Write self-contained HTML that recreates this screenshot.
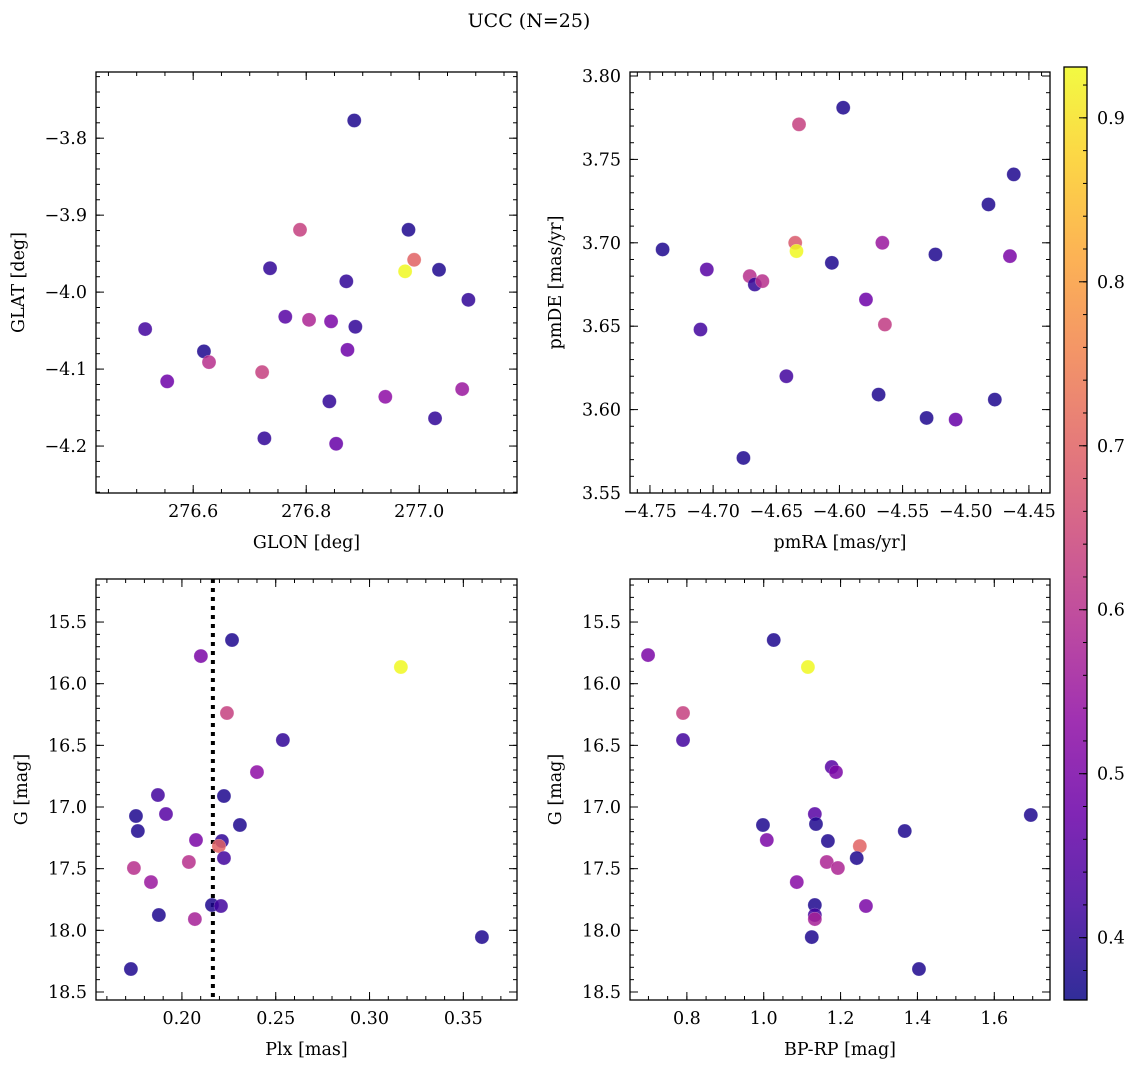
<!DOCTYPE html>
<html><head><meta charset="utf-8"><style>
html,body{margin:0;padding:0;background:#fff;}
svg{display:block;font-family:"DejaVu Serif","Liberation Serif",serif;}
</style></head><body>
<svg id="fig" width="1136" height="1067" viewBox="0 0 1136 1067" xmlns="http://www.w3.org/2000/svg">
<text x="529" y="27" font-size="19" text-anchor="middle">UCC (N=25)</text>
</svg>
<script>
// ---- data ----
const glon = [276.885,276.789,276.981,276.991,276.975,277.035,276.736,276.871,277.087,276.763,276.805,276.844,276.887,276.515,276.873,276.619,276.628,276.722,276.554,277.076,276.940,276.841,277.028,276.726,276.853];
const glat = [-3.777,-3.919,-3.919,-3.958,-3.973,-3.971,-3.969,-3.986,-4.010,-4.032,-4.036,-4.038,-4.045,-4.048,-4.075,-4.077,-4.091,-4.104,-4.116,-4.126,-4.136,-4.142,-4.164,-4.190,-4.197];
const probTL = [0.38,0.63,0.38,0.70,0.93,0.38,0.40,0.40,0.40,0.45,0.58,0.50,0.40,0.42,0.48,0.38,0.60,0.63,0.48,0.55,0.53,0.40,0.40,0.40,0.47];

const pmra = [-4.597,-4.632,-4.462,-4.482,-4.740,-4.635,-4.566,-4.634,-4.524,-4.465,-4.705,-4.606,-4.671,-4.667,-4.661,-4.579,-4.564,-4.710,-4.642,-4.569,-4.531,-4.508,-4.477,-4.676];
const pmde = [3.781,3.771,3.741,3.723,3.696,3.700,3.700,3.695,3.693,3.692,3.684,3.688,3.680,3.675,3.677,3.666,3.651,3.648,3.620,3.609,3.595,3.594,3.606,3.571];
const probTR = [0.38,0.63,0.38,0.38,0.38,0.68,0.55,0.93,0.38,0.50,0.45,0.38,0.60,0.40,0.60,0.48,0.62,0.42,0.42,0.38,0.38,0.47,0.38,0.38];

const plx = [0.2267,0.2101,0.3167,0.2240,0.2538,0.2400,0.1872,0.1915,0.2224,0.1755,0.1765,0.2309,0.2075,0.2213,0.2197,0.2224,0.2037,0.1744,0.1835,0.2160,0.2208,0.1877,0.2069,0.3599,0.1728];
const gmagBL = [15.646,15.776,15.865,16.238,16.457,16.717,16.903,17.057,16.911,17.073,17.195,17.146,17.268,17.276,17.317,17.414,17.446,17.495,17.609,17.795,17.803,17.876,17.909,18.055,18.314];
const probBL = [0.38,0.50,0.93,0.63,0.40,0.53,0.42,0.45,0.38,0.38,0.38,0.38,0.50,0.40,0.70,0.42,0.60,0.60,0.55,0.38,0.42,0.38,0.57,0.38,0.38];
const plxLine = [0.2165];

const bprp = [1.026,0.699,1.115,0.790,0.790,1.177,1.188,1.133,1.136,0.998,1.695,1.367,1.008,1.167,1.250,1.242,1.164,1.193,1.086,1.266,1.133,1.133,1.133,1.125,1.404];
const gmagBR = [15.646,15.768,15.865,16.238,16.457,16.676,16.717,17.057,17.138,17.146,17.065,17.195,17.268,17.276,17.317,17.414,17.446,17.495,17.609,17.803,17.795,17.876,17.909,18.055,18.314];
const probBR = [0.38,0.50,0.93,0.63,0.42,0.45,0.50,0.45,0.38,0.38,0.38,0.38,0.50,0.38,0.70,0.38,0.58,0.58,0.52,0.50,0.38,0.42,0.57,0.38,0.38];

const tlXTicks = [276.6,276.8,277.0];
const tlYTicks = [-3.8,-3.9,-4.0,-4.1,-4.2];
const trXTicks = [-4.75,-4.70,-4.65,-4.60,-4.55,-4.50,-4.45];
const trYTicks = [3.55,3.60,3.65,3.70,3.75,3.80];
const blXTicks = [0.20,0.25,0.30,0.35];
const gTicks = [15.5,16.0,16.5,17.0,17.5,18.0,18.5];
const brXTicks = [0.8,1.0,1.2,1.4,1.6];
const cbTicks = [0.4,0.5,0.6,0.7,0.8,0.9];

const NS='http://www.w3.org/2000/svg';
const fig=document.getElementById('fig');
function mk(tag,attrs,parent){const e=document.createElementNS(NS,tag);for(const k in attrs)e.setAttribute(k,attrs[k]);(parent||fig).appendChild(e);return e;}

const CMIN=0.362, CMAX=0.931;
const plasma=[[13,8,135],[65,4,157],[106,0,168],[143,13,164],[177,42,144],[204,71,120],[225,100,98],[242,132,75],[252,166,54],[252,206,37],[240,249,33]];
function cmap(v){let t=(v-CMIN)/(CMAX-CMIN);t=Math.max(0,Math.min(1,t))*10;const i=Math.min(9,Math.floor(t)),f=t-i;const a=plasma[i],b=plasma[i+1];
return 'rgb('+a.map((c,k)=>Math.round(c+(b[k]-c)*f)).join(',')+')';}

function fmt(v,d){return (v<0?'\u2212':'')+Math.abs(v).toFixed(d);}
const FS=17.5;

function panel(cfg){
  const g=mk('g',{});
  
  
  const {x0,x1,y0,y1,xmin,xmax,ymin,ymax}=cfg;
  const sx=v=>x0+(v-xmin)/(xmax-xmin)*(x1-x0);
  const sy=v=>cfg.invert? y0+(v-ymin)/(ymax-ymin)*(y1-y0) : y1-(v-ymin)/(ymax-ymin)*(y1-y0);
  const tg=mk('g',{stroke:'#000','stroke-width':1},g);
  
  
  const lo=Math.min(xmin,xmax),hi=Math.max(xmin,xmax);
  for(let v=Math.ceil(lo/cfg.xminor-1e-9)*cfg.xminor;v<=hi+1e-9;v+=cfg.xminor){const X=sx(v);
    mk('line',{x1:X,x2:X,y1:y1,y2:y1-4},tg);mk('line',{x1:X,x2:X,y1:y0,y2:y0+4},tg);}
  const ylo=Math.min(ymin,ymax),yhi=Math.max(ymin,ymax);
  for(let v=Math.ceil(ylo/cfg.yminor-1e-9)*cfg.yminor;v<=yhi+1e-9;v+=cfg.yminor){const Y=sy(v);
    mk('line',{x1:x0,x2:x0+4,y1:Y,y2:Y},tg);mk('line',{x1:x1,x2:x1-4,y1:Y,y2:Y},tg);}
  cfg.xticks.forEach(v=>{const X=sx(v);
    mk('line',{x1:X,x2:X,y1:y1,y2:y1-8},tg);mk('line',{x1:X,x2:X,y1:y0,y2:y0+8},tg);
    const t=mk('text',{x:X,y:y1+24,'font-size':FS,'text-anchor':'middle'},g);t.textContent=fmt(v,cfg.xd);
    
    });
  cfg.yticks.forEach(v=>{const Y=sy(v);
    mk('line',{x1:x0,x2:x0+8,y1:Y,y2:Y},tg);mk('line',{x1:x1,x2:x1-8,y1:Y,y2:Y},tg);
    const t=mk('text',{x:x0-9,y:Y+6,'font-size':FS,'text-anchor':'end'},g);t.textContent=fmt(v,cfg.yd);
    
    });
  if(cfg.vline){cfg.vline.forEach(v=>{const l=mk('line',{x1:sx(v),x2:sx(v),y1:y0,y2:y1,stroke:'#000','stroke-width':4,'stroke-dasharray':'4 5'},g);
    
    });}
  cfg.xs.forEach((v,i)=>{const c=mk('circle',{cx:sx(v),cy:sy(cfg.ys[i]),r:7,fill:cmap(cfg.cs[i]),'fill-opacity':0.85,stroke:'#ffffff','stroke-opacity':0.4,'stroke-width':0.5},g);
    
    });
  const fr=mk('rect',{x:x0,y:y0,width:x1-x0,height:y1-y0,fill:'none',stroke:'#000','stroke-width':1.3},g);
  
  
  const xl=mk('text',{x:(x0+x1)/2,y:y1+55,'font-size':FS,'text-anchor':'middle'},g);xl.textContent=cfg.xlabel;
  
  
  const yx=cfg.ylabX, yy=(y0+y1)/2;
  const yl=mk('text',{x:yx,y:yy,'font-size':FS,'text-anchor':'middle',transform:'rotate(-90 '+yx+' '+yy+')'},g);yl.textContent=cfg.ylabel;
  
  
}

panel({name:'glon-glat-panel',x0:96,x1:517,y0:72,y1:493,xmin:276.428,xmax:277.173,ymin:-4.261,ymax:-3.714,
  xticks:tlXTicks,yticks:tlYTicks,xminor:0.05,yminor:0.02,xd:1,yd:1,xs:glon,ys:glat,cs:probTL,xlabel:'GLON [deg]',ylabel:'GLAT [deg]',ylabX:24});
panel({name:'pm-panel',x0:630,x1:1050,y0:72,y1:493,xmin:-4.7658,xmax:-4.4333,ymin:3.55,ymax:3.8024,
  xticks:trXTicks,yticks:trYTicks,xminor:0.01,yminor:0.01,xd:2,yd:2,xs:pmra,ys:pmde,cs:probTR,xlabel:'pmRA [mas/yr]',ylabel:'pmDE [mas/yr]',ylabX:561});
panel({name:'plx-g-panel',x0:96,x1:517,y0:579,y1:1000,xmin:0.1542,xmax:0.3786,ymin:15.151,ymax:18.565,invert:true,
  xticks:blXTicks,yticks:gTicks,xminor:0.01,yminor:0.1,xd:2,yd:1,xs:plx,ys:gmagBL,cs:probBL,xlabel:'Plx [mas]',ylabel:'G [mag]',ylabX:27,vline:plxLine});
panel({name:'cmd-panel',x0:630,x1:1050,y0:579,y1:1000,xmin:0.652,xmax:1.745,ymin:15.151,ymax:18.565,invert:true,
  xticks:brXTicks,yticks:gTicks,xminor:0.05,yminor:0.1,xd:1,yd:1,xs:bprp,ys:gmagBR,cs:probBR,xlabel:'BP-RP [mag]',ylabel:'G [mag]',ylabX:561});

(function(){
  const cx0=1064,cx1=1087,cy0=67,cy1=1000;
  const g=mk('g',{});
  
  
  const defs=mk('defs',{},g);
  const lg=mk('linearGradient',{id:'cbg',x1:0,y1:1,x2:0,y2:0},defs);
  plasma.forEach((c,i)=>mk('stop',{offset:(i/10),'stop-color':'rgb('+c.join(',')+')','stop-opacity':0.85},lg));
  mk('rect',{x:cx0,y:cy0,width:cx1-cx0,height:cy1-cy0,fill:'url(#cbg)'},g);
  const sy=v=>cy1-(v-CMIN)/(CMAX-CMIN)*(cy1-cy0);
  for(let v=0.38;v<=CMAX;v+=0.02){mk('line',{x1:cx1,x2:cx1-4,y1:sy(v),y2:sy(v),stroke:'#000'},g);}
  cbTicks.forEach(v=>{const Y=sy(v);mk('line',{x1:cx1,x2:cx1-8,y1:Y,y2:Y,stroke:'#000'},g);
    const t=mk('text',{x:cx1+10,y:Y+6,'font-size':FS},g);t.textContent=v.toFixed(1);
    
    });
  mk('rect',{x:cx0,y:cy0,width:cx1-cx0,height:cy1-cy0,fill:'none',stroke:'#000','stroke-width':1.3},g);
})();
</script>
</body></html>
